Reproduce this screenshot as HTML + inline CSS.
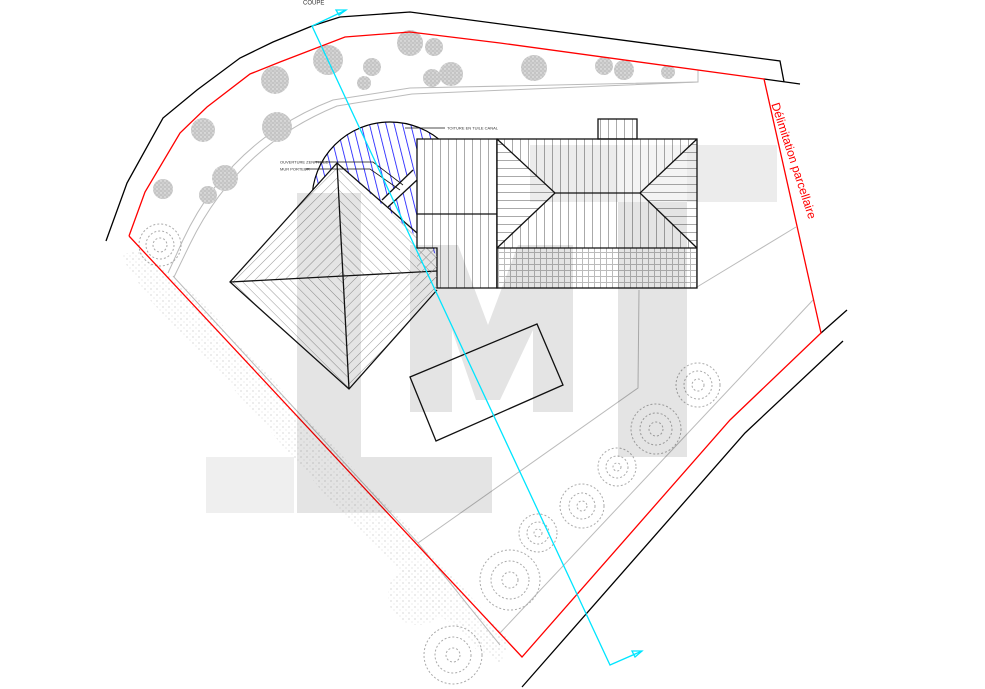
<!DOCTYPE html>
<html><head><meta charset="utf-8"><style>html,body{margin:0;padding:0;background:#fff}svg{display:block}</style></head>
<body>
<svg width="985" height="689" viewBox="0 0 985 689" xmlns="http://www.w3.org/2000/svg" font-family="Liberation Sans, sans-serif">
<defs>
<pattern id="hA" width="7" height="7" patternUnits="userSpaceOnUse" patternTransform="rotate(45)"><line x1="0" y1="0" x2="0" y2="7" stroke="#999" stroke-width="1"/></pattern>
<pattern id="hB" width="7" height="7" patternUnits="userSpaceOnUse" patternTransform="rotate(-45)"><line x1="0" y1="0" x2="0" y2="7" stroke="#999" stroke-width="1"/></pattern>
<pattern id="vt" width="8" height="8" patternUnits="userSpaceOnUse"><line x1="0.5" y1="0" x2="0.5" y2="8" stroke="#aaa" stroke-width="1"/></pattern>
<pattern id="hz" width="8" height="8" patternUnits="userSpaceOnUse"><line x1="0" y1="0.5" x2="8" y2="0.5" stroke="#aaa" stroke-width="1"/></pattern>
<pattern id="gr" width="6" height="6" patternUnits="userSpaceOnUse"><path d="M0 .5H6M.5 0V6" stroke="#bbb" stroke-width="1" fill="none"/></pattern>
<pattern id="bl" width="8" height="8" patternUnits="userSpaceOnUse" patternTransform="rotate(-14)"><line x1="0" y1="0" x2="0" y2="8" stroke="#1010ff" stroke-width="1.6"/></pattern>
<pattern id="st" width="4" height="4" patternUnits="userSpaceOnUse"><rect width="4" height="4" fill="#c4c4c4"/><circle cx="1" cy="1" r="0.7" fill="#f2f2f2"/><circle cx="3" cy="3" r="0.6" fill="#e6e6e6"/></pattern>
<pattern id="dt" width="6" height="6" patternUnits="userSpaceOnUse"><circle cx="1" cy="1" r="0.6" fill="#aaa"/><circle cx="4" cy="4" r="0.5" fill="#bbb"/></pattern>
<clipPath id="circ"><circle cx="390" cy="200" r="78"/></clipPath>
</defs>

<!-- grey paths -->
<g fill="none" stroke="#bbb" stroke-width="1">
<path d="M168,273 L183,240 Q230,140 333,100 L410,88 L698,82 L698,70"/>
<path d="M174,277 L190,244 Q237,147 337,106 L412,94 L698,82"/>
<path d="M173,276 L418,543 L500,645"/>
<path d="M418,543 L638,388 L639,290"/>
<path d="M500,633 L813,300"/>
<path d="M697,287 L796,227"/>
</g>

<!-- hedge dots -->
<g fill="url(#dt)" opacity="0.75">
<polygon points="120,255 140,250 200,300 300,410 420,540 510,640 500,665 440,615 330,500 230,385 150,300"/>
<circle cx="418" cy="595" r="30"/><circle cx="486" cy="640" r="14"/>
</g>

<!-- filled trees -->
<g fill="url(#st)">
<circle cx="275" cy="80" r="14"/><circle cx="328" cy="60" r="15"/><circle cx="410" cy="43" r="13"/><circle cx="434" cy="47" r="9"/>
<circle cx="372" cy="67" r="9"/><circle cx="364" cy="83" r="7"/><circle cx="432" cy="78" r="9"/><circle cx="451" cy="74" r="12"/>
<circle cx="534" cy="68" r="13"/><circle cx="604" cy="66" r="9"/><circle cx="624" cy="70" r="10"/><circle cx="668" cy="72" r="7"/>
<circle cx="203" cy="130" r="12"/><circle cx="277" cy="127" r="15"/><circle cx="225" cy="178" r="13"/><circle cx="208" cy="195" r="9"/><circle cx="163" cy="189" r="10"/>
</g>

<!-- dashed trees -->
<g fill="none" stroke="#aaa" stroke-width="1" stroke-dasharray="2 2">
<g><circle cx="160" cy="245" r="21"/><circle cx="160" cy="245" r="14"/><circle cx="160" cy="245" r="7"/></g>
<g><circle cx="698" cy="385" r="22"/><circle cx="698" cy="385" r="14"/><circle cx="698" cy="385" r="6"/></g>
<g><circle cx="656" cy="429" r="25"/><circle cx="656" cy="429" r="16"/><circle cx="656" cy="429" r="7"/></g>
<g><circle cx="617" cy="467" r="19"/><circle cx="617" cy="467" r="11"/><circle cx="617" cy="467" r="4"/></g>
<g><circle cx="582" cy="506" r="22"/><circle cx="582" cy="506" r="13"/><circle cx="582" cy="506" r="5"/></g>
<g><circle cx="538" cy="533" r="19"/><circle cx="538" cy="533" r="11"/><circle cx="538" cy="533" r="4"/></g>
<g><circle cx="510" cy="580" r="30"/><circle cx="510" cy="580" r="19"/><circle cx="510" cy="580" r="8"/></g>
<g><circle cx="453" cy="655" r="29"/><circle cx="453" cy="655" r="18"/><circle cx="453" cy="655" r="7"/></g>
</g>

<!-- boundaries -->
<polyline fill="none" stroke="#000" stroke-width="1.3" points="106,241 127,183 163,118 197,90 240,58 273,42 312,26 340,17 410,12 780,61 784,82"/>
<line x1="764" y1="79" x2="800" y2="84" stroke="#000" stroke-width="1.3"/>
<line x1="821" y1="333" x2="847" y2="310" stroke="#000" stroke-width="1.3"/>
<polyline fill="none" stroke="#000" stroke-width="1.3" points="843,341 745,433 522,687"/>
<polyline fill="none" stroke="#f00" stroke-width="1.3" points="129,236 145,192 180,133 207,107 250,74 280,62 345,37 410,32 500,43 764,79 821,333 730,420 522,657 129,236"/>

<!-- blue hatched circle -->
<g clip-path="url(#circ)"><rect x="300" y="110" width="180" height="180" fill="url(#bl)"/></g>
<circle cx="390" cy="200" r="78" fill="none" stroke="#000" stroke-width="1.2"/>

<!-- rotated square roof -->
<polygon points="337,163 455,272 349,389 230,282" fill="#fff"/>
<polygon points="337,163 455,272 343,276" fill="url(#hB)"/>
<polygon points="455,272 349,389 343,276" fill="url(#hA)"/>
<polygon points="349,389 230,282 343,276" fill="url(#hB)"/>
<polygon points="230,282 337,163 343,276" fill="url(#hA)"/>
<g stroke="#111" stroke-width="1.3" fill="none">
<polyline points="437,290 349,389 230,282 337,163 417,233"/>
<line x1="343" y1="276" x2="337" y2="163"/><line x1="343" y1="276" x2="349" y2="389"/>
<line x1="343" y1="276" x2="230" y2="282"/><line x1="343" y1="276" x2="437" y2="271"/>
</g>
<polygon points="382,200 413,170 417,180 388,207" fill="#fff"/>
<g stroke="#111" stroke-width="1.3" fill="none">
<line x1="382" y1="200" x2="413" y2="170"/><line x1="388" y1="207" x2="417" y2="180"/>
</g>
<!-- middle block -->
<polygon points="417,139 497,139 497,288 437,288 437,248 417,248" fill="#fff"/>
<polygon points="417,139 497,139 497,288 437,288 437,248 417,248" fill="url(#vt)" stroke="#111" stroke-width="1.3"/>
<rect x="417" y="248" width="20" height="42" fill="url(#hA)"/>
<line x1="417" y1="214" x2="497" y2="214" stroke="#111" stroke-width="1.3"/>
<!-- right block -->
<rect x="598" y="119" width="39" height="20" fill="url(#vt)" stroke="#111" stroke-width="1.3"/>
<rect x="497" y="139" width="200" height="109" fill="url(#vt)"/>
<polygon points="497,139 555,193 497,248" fill="#fff"/><polygon points="497,139 555,193 497,248" fill="url(#hz)"/>
<polygon points="697,139 640,193 697,248" fill="#fff"/><polygon points="697,139 640,193 697,248" fill="url(#hz)"/>
<rect x="497" y="248" width="200" height="40" fill="url(#gr)"/>
<g stroke="#111" stroke-width="1.3" fill="none">
<rect x="497" y="139" width="200" height="149"/>
<line x1="497" y1="248" x2="697" y2="248"/>
<polyline points="497,139 555,193 640,193 697,139"/>
<polyline points="497,248 555,193"/><polyline points="640,193 697,248"/>
</g>

<!-- leaders -->
<g stroke="#111" stroke-width="0.8" fill="none">
<polyline points="315,162 373,162 403,185"/>
<polyline points="305,169 370,169 400,190"/>
<line x1="405" y1="128" x2="445" y2="128"/>
</g>
<g font-size="4" fill="#333">
<text x="280" y="163.5">OUVERTURE ZENITHALE</text>
<text x="280" y="170.5">MUR PORTEUR</text>
<text x="447" y="129.5">TOITURE EN TUILE CANAL</text>
</g>

<!-- car -->
<polygon points="410,377 537,324 563,385 436,441" fill="none" stroke="#111" stroke-width="1.3"/>

<!-- watermark (multiply over everything) -->
<g style="mix-blend-mode:multiply">
<rect x="206" y="457" width="88" height="56" fill="#efefef"/>
<rect x="297" y="193" width="64" height="320" fill="#e4e4e4"/>
<rect x="297" y="457" width="195" height="56" fill="#e4e4e4"/>
<polygon points="410,245 458,245 488,325 518,245 573,245 573,412 533,412 533,330 500,400 476,400 452,330 452,412 410,412" fill="#e4e4e4"/>
<rect x="530" y="145" width="247" height="57" fill="#ececec"/>
<rect x="618" y="202" width="69" height="255" fill="#e4e4e4"/>
<rect x="618" y="145" width="69" height="57" fill="#f4f4f4"/>
</g>

<!-- section line -->
<g stroke="#00e5ff" stroke-width="1.3" fill="none">
<polyline points="346,10 312,26 610,665 642,651"/>
<polygon points="336,10 346,10 339,15"/>
<polygon points="632,651 642,651 635,657"/>
</g>
<text x="303" y="4.5" font-size="6" fill="#333">COUPE</text>

<text x="0" y="0" font-size="12" fill="#f00" transform="translate(790,162) rotate(72)" text-anchor="middle">Délimitation parcellaire</text>
</svg>
</body></html>
